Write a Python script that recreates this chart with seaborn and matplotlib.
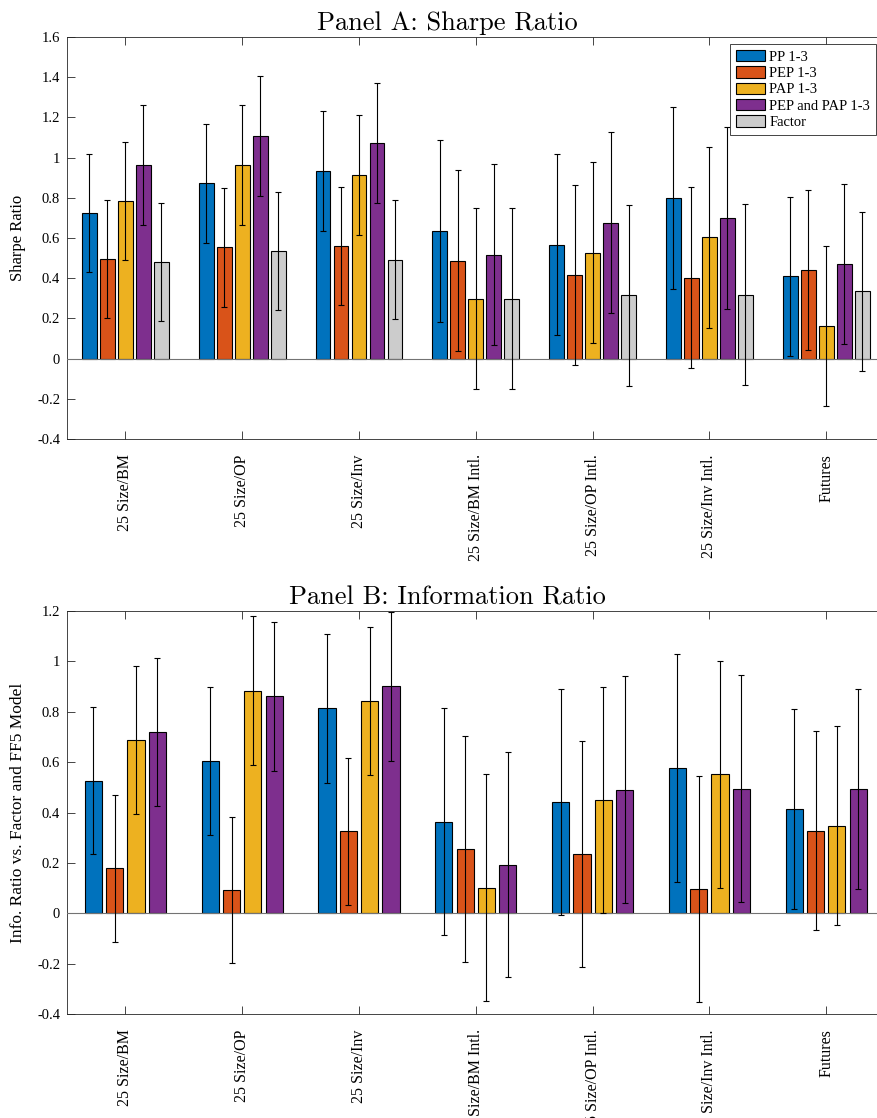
import numpy as np
import pandas as pd
import seaborn as sns
import matplotlib.pyplot as plt

plt.rcParams['font.family'] = ['Liberation Serif', 'DejaVu Serif']

portfolios = ["25 Size/BM", "25 Size/OP", "25 Size/Inv", "25 Size/BM Intl.",
              "25 Size/OP Intl.", "25 Size/Inv Intl.", "Futures"]
series_names = ["PP 1-3", "PEP 1-3", "PAP 1-3", "PEP and PAP 1-3", "Factor"]
colors = ["#0072BD", "#D95319", "#EDB120", "#7E2F8E", "#CCCCCC"]

# Panel A: Sharpe ratio (bar height, +/- error)
sharpe_pp = [0.725, 0.873, 0.934, 0.636, 0.566, 0.798, 0.409]
sharpe_pep = [0.497, 0.553, 0.561, 0.487, 0.416, 0.402, 0.442]
sharpe_pap = [0.785, 0.964, 0.914, 0.298, 0.527, 0.603, 0.162]
sharpe_both = [0.964, 1.106, 1.073, 0.517, 0.676, 0.700, 0.470]
sharpe_factor = [0.480, 0.535, 0.493, 0.298, 0.316, 0.318, 0.334]

sharpe_pp_err = [0.295, 0.296, 0.297, 0.452, 0.451, 0.454, 0.397]
sharpe_pep_err = [0.293, 0.295, 0.294, 0.450, 0.450, 0.450, 0.397]
sharpe_pap_err = [0.295, 0.297, 0.297, 0.449, 0.451, 0.451, 0.396]
sharpe_both_err = [0.297, 0.298, 0.298, 0.451, 0.450, 0.452, 0.398]
sharpe_factor_err = [0.293, 0.294, 0.294, 0.450, 0.450, 0.450, 0.397]

# Panel B: information ratio
info_pp = [0.527, 0.606, 0.814, 0.364, 0.441, 0.577, 0.414]
info_pep = [0.179, 0.094, 0.326, 0.254, 0.234, 0.097, 0.328]
info_pap = [0.687, 0.883, 0.842, 0.102, 0.451, 0.552, 0.348]
info_both = [0.719, 0.862, 0.901, 0.193, 0.490, 0.495, 0.495]

info_pp_err = [0.293, 0.294, 0.295, 0.449, 0.448, 0.451, 0.397]
info_pep_err = [0.292, 0.290, 0.292, 0.448, 0.448, 0.448, 0.396]
info_pap_err = [0.294, 0.296, 0.295, 0.449, 0.449, 0.450, 0.396]
info_both_err = [0.295, 0.296, 0.296, 0.448, 0.450, 0.450, 0.397]

sharpe_ticks = [-0.4, -0.2, 0, 0.2, 0.4, 0.6, 0.8, 1, 1.2, 1.4, 1.6]
sharpe_ticklabels = ["-0.4", "-0.2", "0", "0.2", "0.4", "0.6", "0.8", "1", "1.2", "1.4", "1.6"]
info_ticks = [-0.4, -0.2, 0, 0.2, 0.4, 0.6, 0.8, 1, 1.2]
info_ticklabels = ["-0.4", "-0.2", "0", "0.2", "0.4", "0.6", "0.8", "1", "1.2"]

axcol = '0.15'


def panel(ax, values, errs, names, width, gap, ticks, ticklabels, ylabel, ylabel_size,
          title, legend):
    df = pd.DataFrame({
        'portfolio': portfolios * len(names),
        'series': np.repeat(names, len(portfolios)),
        'value': np.concatenate(values),
    })
    sns.barplot(data=df, x='portfolio', y='value', hue='series', hue_order=names,
                palette=colors[:len(names)], width=width, gap=gap, errorbar=None,
                edgecolor='black', linewidth=0.8, saturation=1, legend=legend, ax=ax)
    for cont, vals, err in zip(ax.containers, values, errs):
        xs = [b.get_x() + b.get_width() / 2 for b in cont]
        ax.errorbar(xs, vals, yerr=err, fmt='none', ecolor='black', elinewidth=0.8,
                    capsize=2.2, capthick=0.8, zorder=5)
    ax.axhline(0, color='0.45', lw=0.8, zorder=4)
    ax.set_xlim(-0.5, len(portfolios) - 0.5)
    ax.set_ylim(ticks[0], ticks[-1])
    ax.set_yticks(ticks)
    ax.set_yticklabels(ticklabels)
    ax.set_xticks(range(len(portfolios)))
    ax.set_xticklabels(portfolios, rotation=90)
    ax.set_xlabel('')
    ax.set_ylabel(ylabel, fontsize=ylabel_size, color='black')
    ax.yaxis.set_label_coords((26 - 67) / 817.6, 0.5)
    ax.tick_params(axis='both', direction='in', length=6, width=0.6, colors=axcol,
                   labelcolor='black', top=True, right=True)
    ax.tick_params(axis='x', pad=11, labelsize=11.5)
    ax.tick_params(axis='y', pad=5, labelsize=10.5)
    for s in ax.spines.values():
        s.set_color(axcol)
        s.set_linewidth(0.6)
    ax.set_title(title, fontfamily='cmr10', fontsize=19, x=(447 - 67) / 817.6, pad=5)


fig = plt.figure(figsize=(8.77, 11.18), dpi=100)
ax_a = fig.add_axes([67 / 877, 1 - 439 / 1118, 817.6 / 877, 402 / 1118])
ax_b = fig.add_axes([67 / 877, 1 - 1014 / 1118, 817.6 / 877, 403 / 1118])

panel(ax_a,
      [sharpe_pp, sharpe_pep, sharpe_pap, sharpe_both, sharpe_factor],
      [sharpe_pp_err, sharpe_pep_err, sharpe_pap_err, sharpe_both_err, sharpe_factor_err],
      series_names, 0.77, 0.18, sharpe_ticks, sharpe_ticklabels,
      'Sharpe Ratio', 12, 'Panel A: Sharpe Ratio', True)
panel(ax_b,
      [info_pp, info_pep, info_pap, info_both],
      [info_pp_err, info_pep_err, info_pap_err, info_both_err],
      series_names[:4], 0.73, 0.19, info_ticks, info_ticklabels,
      'Info. Ratio vs. Factor and FF5 Model', 12.5, 'Panel B: Information Ratio', False)

sns.move_legend(ax_a, 'upper right', bbox_to_anchor=(876 / 877, 1 - 44 / 1118),
                bbox_transform=fig.transFigure, borderaxespad=0, title=None,
                frameon=True, fancybox=False, fontsize=10.5, handlelength=2.0,
                handleheight=0.85, handletextpad=0.3, labelspacing=0.17,
                borderpad=0.4)
leg = ax_a.get_legend()
leg.get_frame().set_edgecolor(axcol)
leg.get_frame().set_linewidth(0.6)
leg.get_frame().set_alpha(1)

fig.savefig('out.png', dpi=100)
